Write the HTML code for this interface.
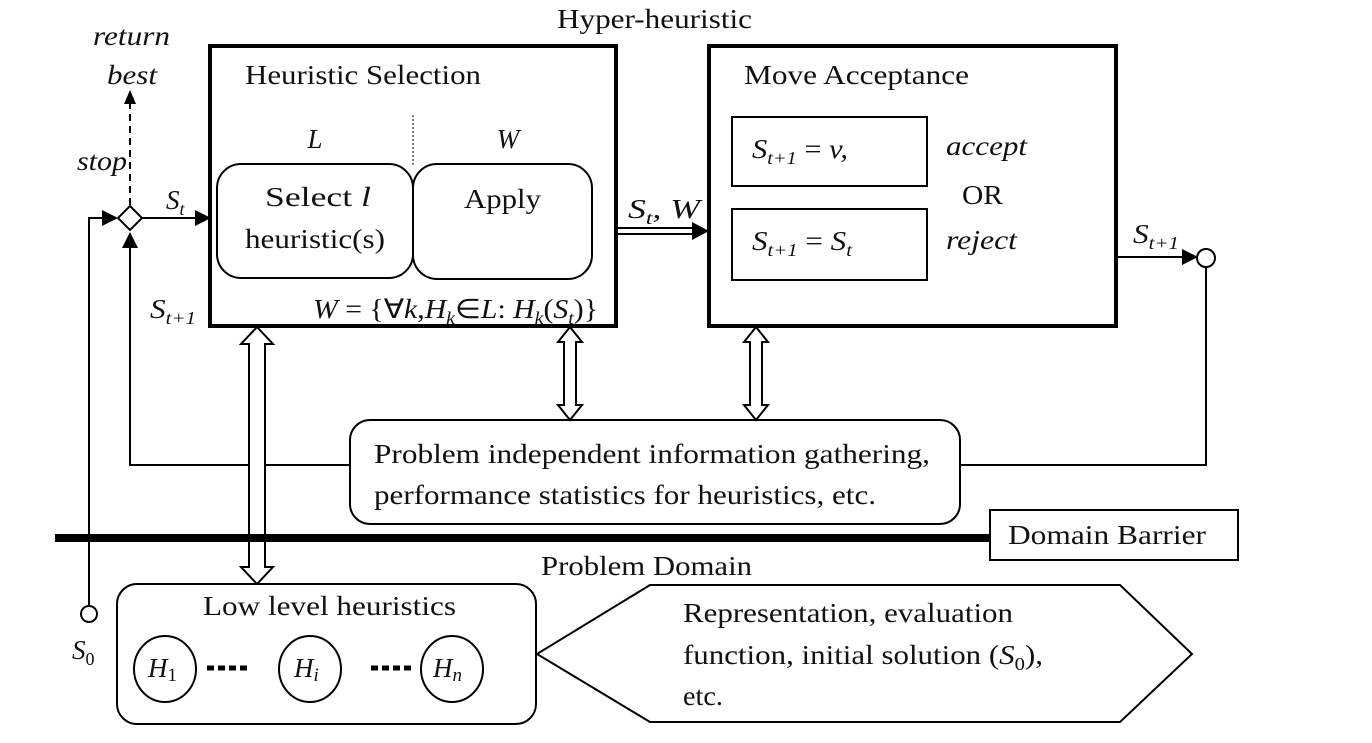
<!DOCTYPE html>
<html><head><meta charset="utf-8"><style>
html,body{margin:0;padding:0;background:#fff;}
svg{display:block;}
text{font-family:"Liberation Serif",serif;font-size:27px;fill:#111;}
.i{font-style:italic;}
</style></head><body>
<svg width="1372" height="743" viewBox="0 0 1372 743" xmlns="http://www.w3.org/2000/svg">
<defs>
<marker id="ah2" markerWidth="16" markerHeight="16" refX="14" refY="8" orient="auto" markerUnits="userSpaceOnUse" viewBox="0 0 16 16"><path d="M0,0 L16,8 L0,16 z" fill="#000"/></marker>
</defs>
<g lengthAdjust="spacingAndGlyphs">
<text x="557" y="28" textLength="195" lengthAdjust="spacingAndGlyphs">Hyper-heuristic</text>
</g>
<!-- Heuristic selection -->
<rect x="210" y="46" width="406" height="280" fill="none" stroke="#000" stroke-width="4"/>
<text x="245" y="84" textLength="236" lengthAdjust="spacingAndGlyphs">Heuristic Selection</text>
<line x1="413" y1="115" x2="413" y2="165" stroke="#000" stroke-width="1" stroke-dasharray="2,2"/>
<text x="315" y="148" class="i" text-anchor="middle">L</text>
<text x="508" y="148" class="i" text-anchor="middle">W</text>
<rect x="217" y="164" width="196" height="114" rx="24" fill="none" stroke="#000" stroke-width="2"/>
<rect x="413" y="164" width="179" height="115" rx="24" fill="none" stroke="#000" stroke-width="2"/>
<text x="265" y="206" textLength="106" lengthAdjust="spacingAndGlyphs">Select <tspan class="i">l</tspan></text>
<text x="245" y="248" textLength="140" lengthAdjust="spacingAndGlyphs">heuristic(s)</text>
<text x="464" y="208" textLength="77" lengthAdjust="spacingAndGlyphs">Apply</text>
<text x="313" y="318" textLength="285" lengthAdjust="spacingAndGlyphs"><tspan class="i">W</tspan> = {∀<tspan class="i">k</tspan>,<tspan class="i">H<tspan font-size="18" dy="6">k</tspan></tspan><tspan dy="-6">∈</tspan><tspan class="i">L</tspan>: <tspan class="i">H<tspan font-size="18" dy="6">k</tspan></tspan><tspan dy="-6">(</tspan><tspan class="i">S<tspan font-size="18" dy="6">t</tspan></tspan><tspan dy="-6">)}</tspan></text>
<!-- Move acceptance -->
<rect x="709" y="46" width="407" height="280" fill="none" stroke="#000" stroke-width="4"/>
<text x="744" y="84" textLength="225" lengthAdjust="spacingAndGlyphs">Move Acceptance</text>
<rect x="732" y="117" width="195" height="69" fill="none" stroke="#000" stroke-width="2"/>
<rect x="732" y="209" width="195" height="71" fill="none" stroke="#000" stroke-width="2"/>
<text x="752" y="158" class="i" textLength="96" lengthAdjust="spacingAndGlyphs">S<tspan font-size="18" dy="6">t+1</tspan><tspan dy="-6" font-style="normal"> = </tspan>v,</text>
<text x="752" y="250" class="i" textLength="100" lengthAdjust="spacingAndGlyphs">S<tspan font-size="18" dy="6">t+1</tspan><tspan dy="-6" font-style="normal"> = </tspan>S<tspan font-size="18" dy="6">t</tspan></text>
<text x="946" y="155" class="i" textLength="81" lengthAdjust="spacingAndGlyphs">accept</text>
<text x="962" y="204" textLength="41" lengthAdjust="spacingAndGlyphs">OR</text>
<text x="946" y="249" class="i" textLength="71" lengthAdjust="spacingAndGlyphs">reject</text>
<!-- St,W double arrow -->
<line x1="616" y1="228" x2="696" y2="228" stroke="#000" stroke-width="2"/>
<line x1="616" y1="234" x2="696" y2="234" stroke="#000" stroke-width="2"/>
<path d="M692,222 L709,231 L692,240 z" fill="#000"/>
<text x="628" y="218" class="i" textLength="72" lengthAdjust="spacingAndGlyphs">S<tspan font-size="18" dy="6">t</tspan><tspan dy="-6" font-style="normal">, </tspan>W</text>
<!-- output -->
<line x1="1116" y1="257" x2="1196" y2="257" stroke="#000" stroke-width="2" marker-end="url(#ah2)"/>
<circle cx="1206" cy="258" r="9" fill="#fff" stroke="#000" stroke-width="2"/>
<text x="1133" y="243" class="i" textLength="46" lengthAdjust="spacingAndGlyphs">S<tspan font-size="18" dy="6">t+1</tspan></text>
<polyline points="1206,267 1206,465 960,465" fill="none" stroke="#000" stroke-width="2"/>
<!-- info box -->
<rect x="350" y="420" width="610" height="104" rx="20" fill="#fff" stroke="#000" stroke-width="2"/>
<text x="374" y="463" textLength="556" lengthAdjust="spacingAndGlyphs">Problem independent information gathering,</text>
<text x="374" y="504" textLength="502" lengthAdjust="spacingAndGlyphs">performance statistics for heuristics, etc.</text>
<polyline points="350,465 130,465 130,234" fill="none" stroke="#000" stroke-width="2" marker-end="url(#ah2)"/>
<!-- diamond -->
<polygon points="130,206 142,218 130,230 118,218" fill="#fff" stroke="#000" stroke-width="2"/>
<polyline points="89,605 89,218 116,218" fill="none" stroke="#000" stroke-width="2" marker-end="url(#ah2)"/>
<line x1="142" y1="218" x2="209" y2="218" stroke="#000" stroke-width="2" marker-end="url(#ah2)"/>
<line x1="130" y1="205" x2="130" y2="100" stroke="#000" stroke-width="2" stroke-dasharray="7,5"/>
<path d="M124,104 L130,90 L136,104 z" fill="#000"/>
<text x="93" y="45" class="i" textLength="77" lengthAdjust="spacingAndGlyphs">return</text>
<text x="107" y="84" class="i" textLength="50" lengthAdjust="spacingAndGlyphs">best</text>
<text x="77" y="170" class="i" textLength="50" lengthAdjust="spacingAndGlyphs">stop</text>
<text x="166" y="209" class="i">S<tspan font-size="18" dy="6">t</tspan></text>
<text x="150" y="318" class="i" textLength="46" lengthAdjust="spacingAndGlyphs">S<tspan font-size="18" dy="6">t+1</tspan></text>
<!-- hollow double arrows -->
<path d="M570,327 L582,342 L576,342 L576,405 L582,405 L570,420 L558,405 L564,405 L564,342 L558,342 z" fill="#fff" stroke="#000" stroke-width="2"/>
<path d="M756,327 L768,342 L762,342 L762,405 L768,405 L756,420 L744,405 L750,405 L750,342 L744,342 z" fill="#fff" stroke="#000" stroke-width="2"/>
<path d="M257,327 L273,344 L265,344 L265,567 L273,567 L257,584 L241,567 L249,567 L249,344 L241,344 z" fill="#fff" stroke="#000" stroke-width="2"/>
<!-- domain barrier -->
<line x1="55" y1="538" x2="990" y2="538" stroke="#000" stroke-width="8"/>
<rect x="990" y="510" width="248" height="50" fill="#fff" stroke="#000" stroke-width="2"/>
<text x="1008" y="544" textLength="198" lengthAdjust="spacingAndGlyphs">Domain Barrier</text>
<text x="541" y="575" textLength="211" lengthAdjust="spacingAndGlyphs">Problem Domain</text>
<!-- S0 -->
<circle cx="89" cy="614" r="8" fill="#fff" stroke="#000" stroke-width="2"/>
<text x="72" y="659" class="i">S<tspan font-size="18" dy="6" font-style="normal">0</tspan></text>
<!-- low level -->
<rect x="117" y="584" width="419" height="140" rx="20" fill="#fff" stroke="#000" stroke-width="2"/>
<text x="203" y="615" textLength="253" lengthAdjust="spacingAndGlyphs">Low level heuristics</text>
<ellipse cx="165" cy="669" rx="31" ry="33" fill="none" stroke="#000" stroke-width="2"/>
<ellipse cx="310" cy="669" rx="31" ry="33" fill="none" stroke="#000" stroke-width="2"/>
<ellipse cx="452" cy="669" rx="31" ry="33" fill="none" stroke="#000" stroke-width="2"/>
<text x="148" y="677" class="i">H<tspan font-size="19" dy="4" font-style="normal">1</tspan></text>
<text x="294" y="677" class="i">H<tspan font-size="19" dy="4">i</tspan></text>
<text x="433" y="677" class="i">H<tspan font-size="19" dy="4">n</tspan></text>
<line x1="207" y1="668" x2="248" y2="668" stroke="#000" stroke-width="5" stroke-dasharray="7,4"/>
<line x1="371" y1="668" x2="412" y2="668" stroke="#000" stroke-width="5" stroke-dasharray="7,4"/>
<!-- hexagon -->
<polygon points="537,654 650,585 1120,585 1192,654 1120,722 650,722" fill="#fff" stroke="#000" stroke-width="2"/>
<text x="683" y="622" textLength="330" lengthAdjust="spacingAndGlyphs">Representation, evaluation</text>
<text x="683" y="664" textLength="360" lengthAdjust="spacingAndGlyphs">function, initial solution (<tspan class="i">S</tspan><tspan font-size="18" dy="6">0</tspan><tspan dy="-6">),</tspan></text>
<text x="683" y="705" textLength="40" lengthAdjust="spacingAndGlyphs">etc.</text>
</svg>
</body></html>
